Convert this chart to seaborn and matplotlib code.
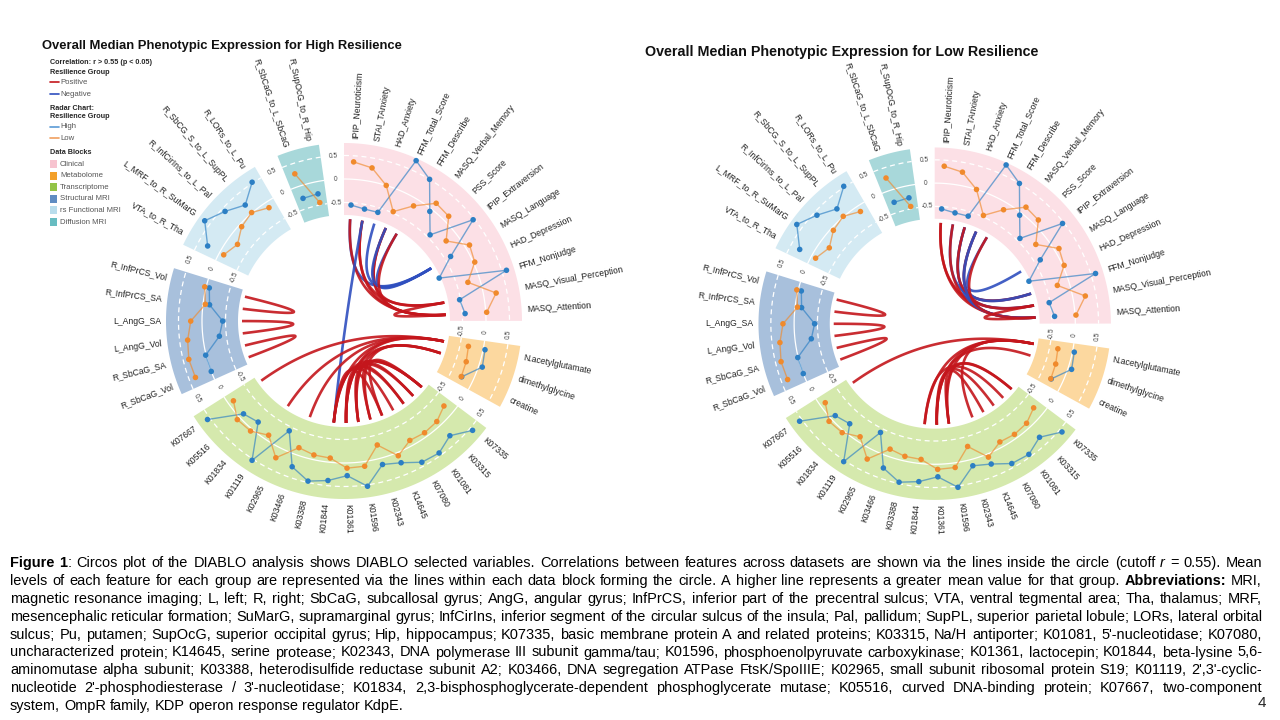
import numpy as np
import pandas as pd
import matplotlib
matplotlib.use("Agg")
import matplotlib.pyplot as plt
from matplotlib.patches import Rectangle
import seaborn as sns

sns.set_theme(style="white")
plt.rcParams["font.family"] = ["Liberation Sans", "DejaVu Sans"]

# ---- features of each data block, clockwise from 12 o'clock ----
clinical_vars = ["IPIP_Neuroticism", "STAI_TAnxiety", "HAD_Anxiety", "FFM_Total_Score",
                 "FFM_Describe", "MASQ_Verbal_Memory", "PSS_Score", "IPIP_Extraversion",
                 "MASQ_Language", "HAD_Depression", "FFM_Nonjudge",
                 "MASQ_Visual_Perception", "MASQ_Attention"]
metabolome_vars = ["N.acetylglutamate", "dimethylglycine", "creatine"]
transcriptome_vars = ["K07335", "K03315", "K01081", "K07080", "K14645", "K02343",
                      "K01596", "K01361", "K01844", "K03388", "K03466", "K02965",
                      "K01119", "K01834", "K05516", "K07667"]
smri_vars = ["R_SbCaG_Vol", "R_SbCaG_SA", "L_AngG_Vol", "L_AngG_SA",
             "R_InfPrCS_SA", "R_InfPrCS_Vol"]
fmri_vars = ["VTA_to_R_Tha", "L_MRF_to_R_SuMarG", "R_InfCirIns_to_L_Pal",
             "R_SbCG_S_to_L_SupPL", "R_LORs_to_L_Pu"]
dmri_vars = ["R_SbCaG_to_L_SbCaG", "R_SupOcG_to_R_Hip"]

block_names = ["Clinical", "Metabolome", "Transcriptome", "Structural MRI",
               "rs Functional MRI", "Diffusion MRI"]
block_fill = ["#fce0e6", "#fcd89f", "#d5e9ad", "#a8c0dc", "#d4eaf3", "#a8d8da"]
legend_fill = ["#f7c3cf", "#f3a02a", "#93c447", "#5f8cc2", "#b9ddec", "#67bcc1"]

# ---- median values per feature (High / Low resilience group) ----
clin_high = [-0.55, -0.60, -0.60, 0.72, 0.50, -0.06, -0.43, 0.47, -0.37, -0.80, 0.60, -0.52, -0.44]
clin_low = [0.37, 0.29, 0.00, -0.47, -0.16, 0.16, 0.13, -0.26, 0.10, 0.03, -0.26, 0.27, 0.02]
metab_high = [0.04, 0.08, -0.25]
metab_low = [-0.32, -0.28, -0.26]
trans_high = [0.57, 0.30, 0.44, 0.41, 0.23, 0.14, 0.53, 0.27, 0.39, 0.47, 0.27, -0.41, 0.53, -0.20, -0.11, 0.56]
trans_low = [-0.23, -0.11, -0.09, -0.12, 0.07, -0.29, 0.10, 0.11, -0.09, -0.10, -0.16, 0.23, -0.11, 0.05, 0.07, -0.12]
smri_high = [0.00, 0.01, -0.35, -0.44, -0.14, -0.07]
smri_low = [0.36, 0.38, 0.33, 0.24, -0.05, 0.03]
fmri_high = [0.29, 0.63, 0.42, 0.22, 0.52]
fmri_low = [-0.10, -0.23, -0.06, 0.01, -0.13]
dmri_high = [-0.27, -0.26]
dmri_low = [0.28, -0.45]

# ---- correlations above cutoff (feature, feature, sign) ----
links_hr = [
    ("IPIP_Neuroticism", "MASQ_Language", -1),
    ("IPIP_Neuroticism", "MASQ_Attention", 1),
    ("STAI_TAnxiety", "MASQ_Visual_Perception", 1),
    ("STAI_TAnxiety", "MASQ_Attention", 1),
    ("HAD_Anxiety", "MASQ_Language", -1),
    ("FFM_Total_Score", "MASQ_Visual_Perception", 1),
    ("FFM_Total_Score", "MASQ_Attention", 1),
    ("FFM_Total_Score", "MASQ_Language", -1),
    ("FFM_Describe", "MASQ_Language", -1),
    ("FFM_Describe", "MASQ_Attention", 1),
    ("MASQ_Visual_Perception", "MASQ_Attention", 1),
    ("STAI_TAnxiety", "K01844", -1),
    ("R_InfPrCS_Vol", "R_InfPrCS_SA", 1),
    ("L_AngG_SA", "L_AngG_Vol", 1),
    ("R_SbCaG_SA", "R_SbCaG_Vol", 1),
    ("N.acetylglutamate", "K07667", 1),
    ("N.acetylglutamate", "K01119", 1),
    ("N.acetylglutamate", "K03466", 1),
    ("N.acetylglutamate", "K01844", 1),
    ("N.acetylglutamate", "K01361", 1),
    ("dimethylglycine", "K01361", 1),
    ("dimethylglycine", "K01596", 1),
    ("dimethylglycine", "K02343", 1),
    ("K07335", "K01844", 1),
    ("K07335", "K01361", 1),
    ("K07335", "K01596", 1),
    ("K03315", "K01361", 1),
    ("K03315", "K02343", 1),
    ("K01081", "K01596", 1),
    ("K01081", "K01844", 1),
    ("K07080", "K01361", 1),
    ("K14645", "K01844", 1),
    ("K07335", "K14645", 1),
]
links_lr = [
    ("IPIP_Neuroticism", "MASQ_Attention", 1),
    ("IPIP_Neuroticism", "MASQ_Visual_Perception", 1),
    ("STAI_TAnxiety", "FFM_Nonjudge", -1),
    ("STAI_TAnxiety", "MASQ_Attention", 1),
    ("HAD_Anxiety", "MASQ_Visual_Perception", -1),
    ("HAD_Anxiety", "MASQ_Attention", -1),
    ("HAD_Anxiety", "FFM_Nonjudge", 1),
    ("FFM_Total_Score", "FFM_Nonjudge", -1),
    ("FFM_Total_Score", "MASQ_Visual_Perception", 1),
    ("FFM_Total_Score", "MASQ_Attention", -1),
    ("FFM_Describe", "MASQ_Language", -1),
    ("FFM_Describe", "MASQ_Attention", 1),
    ("MASQ_Visual_Perception", "MASQ_Attention", 1),
    ("R_InfPrCS_Vol", "R_InfPrCS_SA", 1),
    ("L_AngG_SA", "L_AngG_Vol", 1),
    ("R_SbCaG_SA", "R_SbCaG_Vol", 1),
    ("N.acetylglutamate", "K07667", 1),
    ("N.acetylglutamate", "K01844", 1),
    ("N.acetylglutamate", "K01361", 1),
    ("N.acetylglutamate", "K01596", 1),
    ("N.acetylglutamate", "K14645", 1),
    ("dimethylglycine", "K01361", 1),
    ("K07335", "K01361", 1),
    ("K07335", "K01596", 1),
    ("K03315", "K01844", 1),
    ("K01081", "K01361", 1),
    ("K07080", "K01596", 1),
]

HIGH_COL = "#2c7fc4"
LOW_COL = "#f08a2c"
POS_COL = "#c4161c"
NEG_COL = "#2f4fbf"

# geometry (pixels at scale 1)
FEAT_DEG = 6.92
GAP_DEG = 8.1
R_IN, R_OUT, R_ZERO, R_UNIT, R_LINK, R_LABEL = 106, 178, 142, 47, 102, 183

fig = plt.figure(figsize=(12.8, 7.2), dpi=100)
ax = fig.add_axes([0, 0, 1, 1])


def polar(c, r, th):
    th = np.radians(th)
    return c[0] + r * np.sin(th), c[1] - r * np.cos(th)


def draw_circos(c, s, var_lists, highs, lows, links):
    theta = {}
    start = 0.0
    spans = []
    for vars_ in var_lists:
        end = start + FEAT_DEG * len(vars_)
        spans.append((start, end))
        for i, v in enumerate(vars_):
            theta[v] = start + FEAT_DEG * (i + 0.5)
        start = end + GAP_DEG

    for (a0, a1), col, vars_, hi, lo in zip(spans, block_fill, var_lists, highs, lows):
        ths = np.linspace(a0, a1, 80)
        xo, yo = polar(c, R_OUT * s, ths)
        xi, yi = polar(c, R_IN * s, ths[::-1])
        ax.fill(np.r_[xo, xi], np.r_[yo, yi], color=col, lw=0, zorder=1)
        for v in (-0.5, 0, 0.5):
            x, y = polar(c, (R_ZERO + v * R_UNIT) * s, ths)
            ax.plot(x, y, color="white", lw=0.9, ls="-" if v == 0 else (0, (4, 3)), zorder=2)
            # scale labels just before the block start
            tx, ty = polar(c, (R_ZERO + v * R_UNIT) * s, a0 - 3.6)
            rot = (-(a0 - 3.6) + 90) % 180 - 90
            ax.text(tx, ty, f"{v:g}", fontsize=4.8, color="#444444",
                    rotation=rot, ha="center", va="center", rotation_mode="anchor")
        ths_f = [theta[v] for v in vars_]
        for vals, col_line in ((hi, HIGH_COL), (lo, LOW_COL)):
            x, y = polar(c, (R_ZERO + np.array(vals) * R_UNIT) * s, np.array(ths_f))
            df = pd.DataFrame({"x": x, "y": y})
            sns.lineplot(data=df, x="x", y="y", sort=False, estimator=None, color=col_line,
                         lw=1.0, alpha=0.65, ax=ax, zorder=3)
            sns.scatterplot(data=df, x="x", y="y", color=col_line, s=16, edgecolor="none",
                            ax=ax, zorder=4)
        for v in vars_:
            th = theta[v]
            x, y = polar(c, R_LABEL * s, th)
            if th < 180:
                rot, ha = 90 - th, "left"
            else:
                rot, ha = 270 - th, "right"
            ax.text(x, y, v, fontsize=6.2, color="#222222", rotation=rot, ha=ha, va="center",
                    rotation_mode="anchor")

    t = np.linspace(0, 1, 90)[:, None]
    cc = np.array(c)
    for a, b, sign in links:
        p0 = np.array(polar(c, R_LINK * s, theta[a]))
        p2 = np.array(polar(c, R_LINK * s, theta[b]))
        pts = (1 - t) ** 2 * p0 + 2 * (1 - t) * t * cc + t ** 2 * p2
        ax.plot(pts[:, 0], pts[:, 1], color=POS_COL if sign > 0 else NEG_COL, lw=1.9,
                alpha=0.9, zorder=2, solid_capstyle="butt")


var_lists = [clinical_vars, metabolome_vars, transcriptome_vars, smri_vars, fmri_vars, dmri_vars]
highs = [clin_high, metab_high, trans_high, smri_high, fmri_high, dmri_high]
lows = [clin_low, metab_low, trans_low, smri_low, fmri_low, dmri_low]
draw_circos((344, 321), 1.0, var_lists, highs, lows, links_hr)
draw_circos((934.7, 323.7), 0.99, var_lists, highs, lows, links_lr)

# titles
ax.text(42, 46, "Overall Median Phenotypic Expression for High Resilience", fontsize=9.4,
        fontweight="bold", ha="left", va="center", color="#111111")
ax.text(645, 52, "Overall Median Phenotypic Expression for Low Resilience", fontsize=10.3,
        fontweight="bold", ha="left", va="center", color="#111111")

# legend (left panel)
lx = 50
ax.text(lx, 63, "Correlation: r > 0.55 (p < 0.05)", fontsize=5.2, fontweight="bold", va="center")
ax.text(lx, 72, "Resilience Group", fontsize=5.2, fontweight="bold", va="center")
for y, lab, col in ((82, "Positive", POS_COL), (94, "Negative", NEG_COL)):
    ax.plot([lx, lx + 9], [y, y], color=col, lw=1.2)
    ax.text(lx + 10, y, lab, fontsize=5.6, color="#555555", va="center")
ax.text(lx, 109, "Radar Chart:", fontsize=5.2, fontweight="bold", va="center")
ax.text(lx, 117, "Resilience Group", fontsize=5.2, fontweight="bold", va="center")
for y, lab, col in ((127, "High", "#5b9bd5"), (138, "Low", "#f0a060")):
    ax.plot([lx, lx + 9], [y, y], color=col, lw=1.2)
    ax.text(lx + 10, y, lab, fontsize=5.6, color="#555555", va="center")
ax.text(lx, 153, "Data Blocks", fontsize=5.2, fontweight="bold", va="center")
for i, (lab, col) in enumerate(zip(block_names, legend_fill)):
    y = 164 + i * 11.6
    ax.add_patch(Rectangle((lx, y - 4), 7, 8, color=col, lw=0))
    ax.text(lx + 10, y, lab, fontsize=5.6, color="#555555", va="center")

# caption, justified word by word
caption = [
    [("Figure 1", "bold", "normal", False), (": Circos plot of the DIABLO analysis shows DIABLO selected variables. Correlations between features across datasets are shown via the lines inside the circle (cutoff", "normal", "normal", False), ("r", "normal", "italic", True), ("= 0.55). Mean", "normal", "normal", True)],
    [("levels of each feature for each group are represented via the lines within each data block forming the circle. A higher line represents a greater mean value for that group.", "normal", "normal", False), ("Abbreviations:", "bold", "normal", True), ("MRI,", "normal", "normal", True)],
    [("magnetic resonance imaging; L, left; R, right; SbCaG, subcallosal gyrus; AngG, angular gyrus; InfPrCS, inferior part of the precentral sulcus; VTA, ventral tegmental area; Tha, thalamus; MRF,", "normal", "normal", False)],
    [("mesencephalic reticular formation; SuMarG, supramarginal gyrus; InfCirIns, inferior segment of the circular sulcus of the insula; Pal, pallidum; SupPL, superior parietal lobule; LORs, lateral orbital", "normal", "normal", False)],
    [("sulcus; Pu, putamen; SupOcG, superior occipital gyrus; Hip, hippocampus; K07335, basic membrane protein A and related proteins; K03315, Na/H antiporter; K01081, 5'-nucleotidase; K07080,", "normal", "normal", False)],
    [("uncharacterized protein; K14645, serine protease; K02343, DNA polymerase III subunit gamma/tau; K01596, phosphoenolpyruvate carboxykinase; K01361, lactocepin; K01844, beta-lysine 5,6-", "normal", "normal", False)],
    [("aminomutase alpha subunit; K03388, heterodisulfide reductase subunit A2; K03466, DNA segregation ATPase FtsK/SpoIIIE; K02965, small subunit ribosomal protein S19; K01119, 2',3'-cyclic-", "normal", "normal", False)],
    [("nucleotide 2'-phosphodiesterase / 3'-nucleotidase; K01834, 2,3-bisphosphoglycerate-dependent phosphoglycerate mutase; K05516, curved DNA-binding protein; K07667, two-component", "normal", "normal", False)],
    [("system, OmpR family, KDP operon response regulator KdpE.", "normal", "normal", False)],
]

ax.set_xlim(0, 1280)
ax.set_ylim(720, 0)
ax.axis("off")

renderer = fig.canvas.get_renderer()
X0, X1 = 10, 1262


def text_w(s, fs, **kw):
    t = ax.text(0, 0, s, fontsize=fs, **kw)
    w = t.get_window_extent(renderer).width
    t.remove()
    return w


def split_words(parts):
    words = []
    for txt, wt, st, sp in parts:
        for k, w in enumerate(txt.split(" ")):
            words.append((w, wt, st, sp if k == 0 else True))
    return words


# pick one font size so that every justified line fits with normal spacing
base = 10.0
sp_base = text_w("a a", base) - text_w("aa", base)
fits = []
for parts in caption[:-1]:
    words = split_words(parts)
    nat = sum(text_w(w, base, fontweight=wt, fontstyle=st) for w, wt, st, _ in words)
    nat += sp_base * sum(1 for i, wd in enumerate(words) if i > 0 and wd[3])
    fits.append(base * (X1 - X0) / nat)
CAP_FS = min(min(fits) * 0.995, 11.2)
space_w = text_w("a a", CAP_FS) - text_w("aa", CAP_FS)

for li, parts in enumerate(caption):
    y = 567 + li * 17.9
    words = split_words(parts)
    widths = [text_w(w, CAP_FS, fontweight=wt, fontstyle=st) for w, wt, st, _ in words]
    n_sp = sum(1 for i, wd in enumerate(words) if i > 0 and wd[3])
    gap = space_w
    if li < len(caption) - 1 and n_sp:
        gap = (X1 - X0 - sum(widths)) / n_sp
    x = X0
    for i, ((w, wt, st, sp), wd) in enumerate(zip(words, widths)):
        if i > 0 and sp:
            x += gap
        ax.text(x, y, w, fontsize=CAP_FS, fontweight=wt, fontstyle=st, ha="left",
                va="baseline", color="#000000")
        x += wd

ax.text(1262, 707, "4", fontsize=11, ha="center", va="baseline")

fig.savefig("out.png", dpi=100)
